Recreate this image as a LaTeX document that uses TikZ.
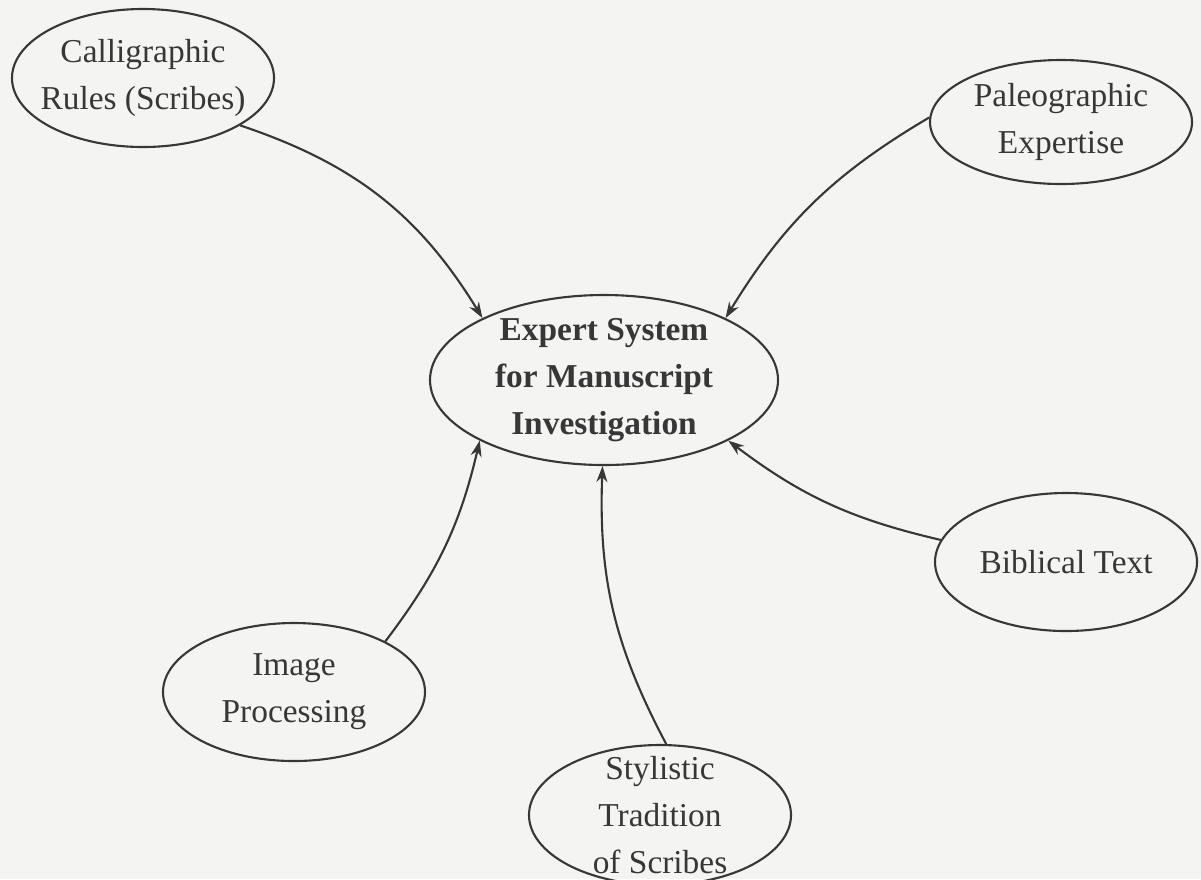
\documentclass[tikz,border=0pt]{standalone}
\usepackage{fontspec}
\setmainfont{Liberation Serif}
\usetikzlibrary{shapes.geometric,arrows.meta}
\definecolor{ink}{RGB}{55,55,55}
\definecolor{paper}{RGB}{244,244,242}

\begin{document}
\begin{tikzpicture}[
    x=0.1mm, y=0.1mm,
    topic/.style={ellipse, draw=ink, text=ink, line width=0.6pt, inner xsep=-3mm, inner ysep=-3mm, minimum width=26.2mm, minimum height=13.8mm, align=center, font=\fontsize{9.5}{13.3}\selectfont},
    core/.style={topic, minimum width=34.8mm, minimum height=17mm, font=\fontsize{9.5}{13.3}\selectfont\bfseries},
    arrow/.style={-{Stealth[length=1.6mm, width=1.1mm]}, draw=ink, line width=0.6pt}
]
    \clip (0,0) rectangle (1201,-879);
    \fill[paper] (0,0) rectangle (1201,-879);

    \node[core] (hub) at (604,-380) {Expert System\\for Manuscript\\Investigation};
    \node[topic] (cal) at (143,-78) {Calligraphic\\Rules (Scribes)};
    \node[topic, minimum height=12.4mm] (pal) at (1061,-122) {Paleographic\\Expertise};
    \node[topic] (bible) at (1066,-562) {Biblical Text};
    \node[topic] (imgproc) at (294,-692) {Image\\Processing};
    \node[topic, minimum height=14mm] (style) at (660,-815) {Stylistic\\Tradition\\of Scribes};

    \draw[arrow] (cal.-26) to[bend left=20] (hub.153);
    \draw[arrow] (pal.178) to[bend right=14] (hub.27);
    \draw[arrow] (imgproc.29) to[bend right=12] (hub.206);
    \draw[arrow] (style.85) to[bend left=15] (hub.269);
    \draw[arrow] (bible.170) to[bend left=12] (hub.334);
\end{tikzpicture}
\end{document}
